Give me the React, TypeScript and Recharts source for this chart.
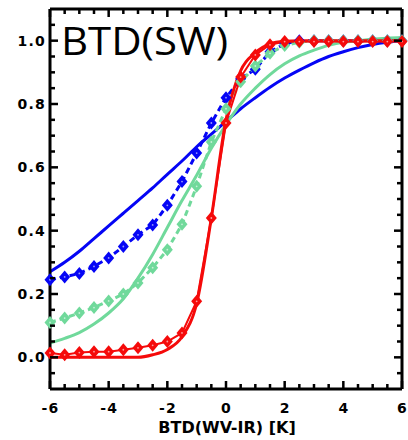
import React from "react";
import { ComposedChart, Line, XAxis, YAxis } from "recharts";

// x positions of the samples (K)
const xs = [-6, -5.5, -5, -4.5, -4, -3.5, -3, -2.5, -2, -1.5, -1, -0.5, 0, 0.5, 1, 1.5, 2, 2.5, 3, 3.5, 4, 4.5, 5, 5.5, 6];

// fitted curves (solid)
const blueFit = [0.27, 0.3, 0.335, 0.375, 0.415, 0.455, 0.495, 0.535, 0.578, 0.62, 0.665, 0.705, 0.745, 0.785, 0.82, 0.853, 0.882, 0.907, 0.93, 0.95, 0.965, 0.978, 0.988, 0.995, 1.0];
const greenFit = [0.045, 0.06, 0.078, 0.105, 0.14, 0.185, 0.25, 0.325, 0.41, 0.495, 0.575, 0.66, 0.735, 0.8, 0.85, 0.893, 0.927, 0.952, 0.97, 0.985, 0.995, 1.0, 1.005, 1.008, 1.01];
const redFit = [0, 0, 0, 0, 0, 0, 0, 0.008, 0.025, 0.065, 0.17, 0.44, 0.75, 0.905, 0.962, 0.99, 0.998, 1.0, 1.0, 1.0, 1.0, 1.0, 1.0, 1.0, 1.0];

// observed (diamonds)
const blueObs = [0.245, 0.254, 0.265, 0.287, 0.314, 0.35, 0.387, 0.418, 0.48, 0.555, 0.645, 0.74, 0.82, 0.88, 0.91, 0.965, 0.99, 1.0, 1.0, 1.0, 1.0, 1.0, 1.0, 1.0, 1.0];
const greenObs = [0.11, 0.124, 0.14, 0.157, 0.178, 0.2, 0.235, 0.283, 0.34, 0.42, 0.54, 0.68, 0.785, 0.87, 0.92, 0.96, 0.985, 0.995, 1.0, 1.0, 1.0, 1.0, 1.0, 1.0, 1.0];
const redObs = [0.014, 0.008, 0.015, 0.018, 0.018, 0.024, 0.03, 0.038, 0.05, 0.077, 0.177, 0.44, 0.74, 0.885, 0.955, 0.987, 0.997, 0.997, 0.997, 0.997, 0.997, 0.997, 0.997, 0.997, 0.997];

const xTicks = xs;
const xLabels = [-6, -4, -2, 0, 2, 4, 6];
const yTicks = [-0.05, 0, 0.05, 0.1, 0.15, 0.2, 0.25, 0.3, 0.35, 0.4, 0.45, 0.5, 0.55, 0.6, 0.65, 0.7, 0.75, 0.8, 0.85, 0.9, 0.95, 1.0, 1.05];
const yLabels = [0, 0.2, 0.4, 0.6, 0.8, 1.0];

const BLUE = "#0505f5";
const GREEN = "#70d99b";
const RED = "#f50a0a";

const data = xs.map((x, i) => ({
  x,
  blueFit: blueFit[i],
  greenFit: greenFit[i],
  redFit: redFit[i],
  blueObs: blueObs[i],
  greenObs: greenObs[i],
  redObs: redObs[i],
}));

const tickFont: React.CSSProperties = { fontFamily: "DejaVu Sans", fontWeight: 700, fontSize: 14, letterSpacing: 1.2, fill: "#000" };
const isIn = (list: number[], v: number) => list.some((l) => Math.abs(l - v) < 1e-6);

// tick marks point into the plot; majors are longer
const XTick = (props: any) => {
  const { x, y, payload, top } = props;
  const major = isIn(xLabels, payload.value);
  const len = major ? 8 : 5;
  return (
    <g>
      <rect x={x - 1.25} y={top ? y : y - len} width={2.5} height={len} fill="#000" />
      {!top && major && (
        <text x={x + 0.6} y={y + 24} textAnchor="middle" style={tickFont}>
          {payload.value}
        </text>
      )}
    </g>
  );
};

const YTick = (props: any) => {
  const { x, y, payload, right } = props;
  const major = isIn(yLabels, payload.value);
  const len = major ? 8 : 5;
  return (
    <g>
      <rect x={right ? x - len : x} y={y - 1.25} width={len} height={2.5} fill="#000" />
      {!right && major && (
        <text x={x - 4} y={y + 5} textAnchor="end" style={tickFont}>
          {payload.value.toFixed(1)}
        </text>
      )}
    </g>
  );
};

const diamond = (p: any, color: string) => {
  const { cx, cy, index } = p;
  if (cx == null || cy == null) return <g key={`d-${index}`} />;
  const rx = 5.5;
  const ry = 6.5;
  return (
    <g key={`d-${index}`}>
      <polygon points={`${cx},${cy - ry} ${cx + rx},${cy} ${cx},${cy + ry} ${cx - rx},${cy}`} fill={color} />
      <circle cx={cx} cy={cy} r={0.9} fill="#fff" opacity={0.6} />
    </g>
  );
};

export default function App() {
  const axisLine = { stroke: "#000", strokeWidth: 3 };
  return (
    <div style={{ position: "absolute", left: 0, top: 0, width: 408, height: 440, background: "#fff" }}>
      <ComposedChart width={408} height={440} data={data} margin={{ top: 8, right: 5, bottom: 0, left: 0 }}>
        <XAxis xAxisId="b" dataKey="x" type="number" domain={[-6, 6]} ticks={xTicks} interval={0} height={51} tickSize={0} tickMargin={0} tickLine={false} axisLine={axisLine} tick={<XTick />} />
        <XAxis xAxisId="t" orientation="top" dataKey="x" type="number" domain={[-6, 6]} ticks={xTicks} interval={0} height={1} tickSize={0} tickMargin={0} tickLine={false} axisLine={axisLine} tick={<XTick top />} />
        <YAxis yAxisId="l" type="number" domain={[-0.1, 1.1]} ticks={yTicks} interval={0} width={50} tickSize={0} tickMargin={0} tickLine={false} axisLine={axisLine} tick={<YTick />} allowDataOverflow />
        <YAxis yAxisId="r" orientation="right" type="number" domain={[-0.1, 1.1]} ticks={yTicks} interval={0} width={1} tickSize={0} tickMargin={0} tickLine={false} axisLine={axisLine} tick={<YTick right />} allowDataOverflow />
        <Line xAxisId="b" yAxisId="l" type="monotone" dataKey="blueFit" stroke={BLUE} strokeWidth={3} dot={false} isAnimationActive={false} />
        <Line xAxisId="b" yAxisId="l" type="linear" dataKey="blueObs" stroke={BLUE} strokeWidth={3} strokeDasharray="6 4" dot={(p: any) => diamond(p, BLUE)} isAnimationActive={false} />
        <Line xAxisId="b" yAxisId="l" type="monotone" dataKey="greenFit" stroke={GREEN} strokeWidth={3} dot={false} isAnimationActive={false} />
        <Line xAxisId="b" yAxisId="l" type="linear" dataKey="greenObs" stroke={GREEN} strokeWidth={3} strokeDasharray="6 4" dot={(p: any) => diamond(p, GREEN)} isAnimationActive={false} />
        <Line xAxisId="b" yAxisId="l" type="monotone" dataKey="redFit" stroke={RED} strokeWidth={3} dot={false} isAnimationActive={false} />
        <Line xAxisId="b" yAxisId="l" type="linear" dataKey="redObs" stroke={RED} strokeWidth={2} dot={(p: any) => diamond(p, RED)} isAnimationActive={false} />
      </ComposedChart>
      <svg width={408} height={440} style={{ position: "absolute", left: 0, top: 0, pointerEvents: "none" }}>
        <text x={61} y={55} style={{ fontFamily: "Open Sans", fontSize: 39, fill: "#000" }} textLength={167} lengthAdjust="spacingAndGlyphs">
          BTD(SW)
        </text>
        <text x={227} y={433} textAnchor="middle" style={{ fontFamily: "DejaVu Sans", fontWeight: 700, fontSize: 16, fill: "#000" }}>
          BTD(WV-IR) [K]
        </text>
      </svg>
    </div>
  );
}
